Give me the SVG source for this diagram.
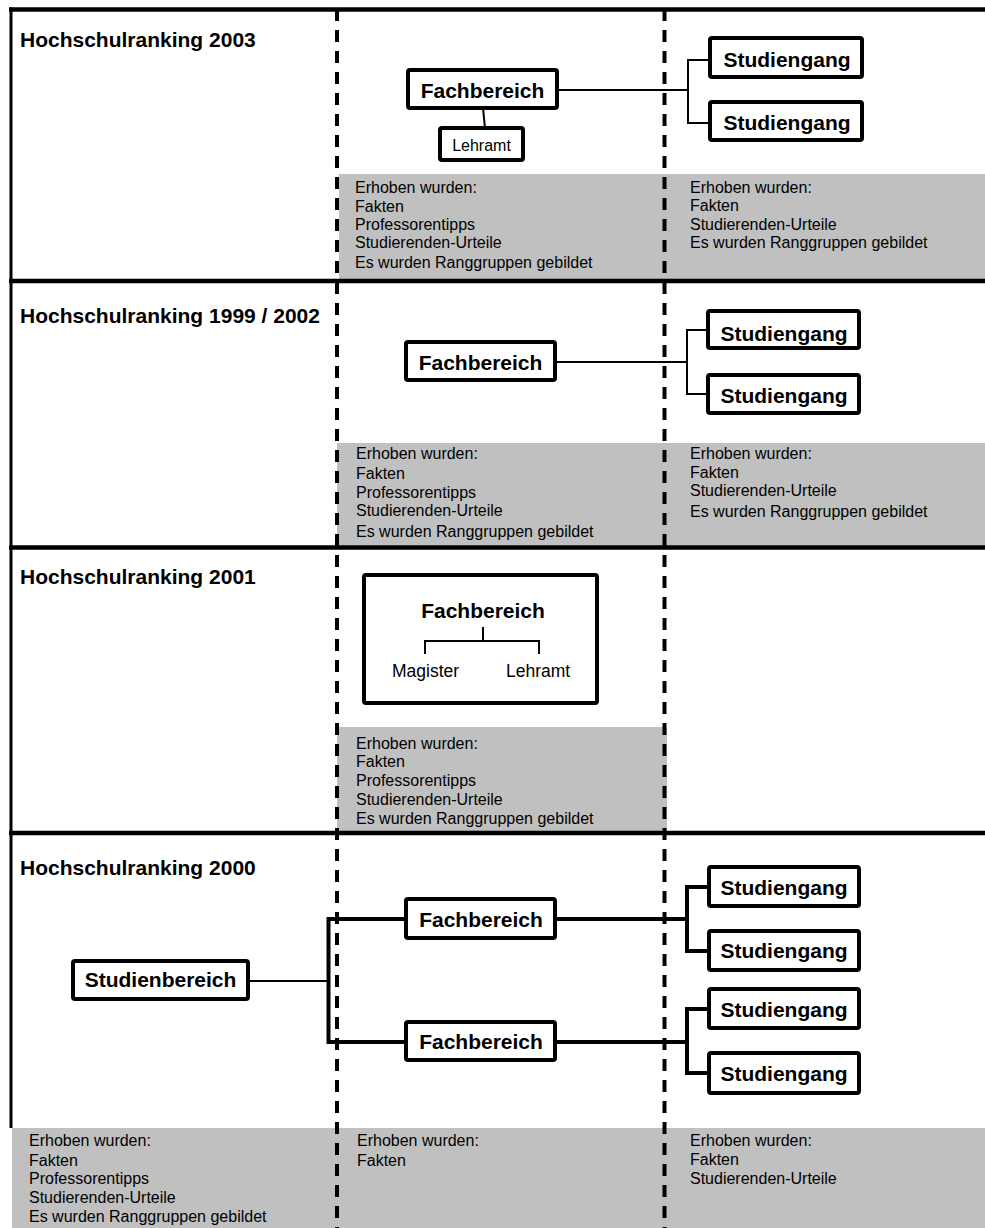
<svg xmlns="http://www.w3.org/2000/svg" width="985" height="1228" viewBox="0 0 985 1228">
<style>
text{font-family:"Liberation Sans",Arial,Helvetica,sans-serif;fill:#000}
.t{font-size:21px;font-weight:bold}
.b{font-size:21px;font-weight:bold;text-anchor:middle}
.g{font-size:16px}
.s{font-size:17.5px}
.box{fill:#fff;stroke:#000;stroke-width:4}
.gray{fill:#c0c0c0}
.sep{stroke:#000;stroke-width:4.5;fill:none}
.dash{stroke:#000;stroke-width:4;stroke-dasharray:12 9;fill:none}
.thin{stroke:#000;stroke-width:2;fill:none}
.thick{stroke:#000;stroke-width:4;fill:none}
</style>
<rect width="985" height="1228" fill="#fff"/>
<g id="backgrounds">
<rect class="gray" x="339" y="174" width="646" height="105"/>
<rect class="gray" x="337" y="443" width="648" height="103"/>
<rect class="gray" x="337" y="727" width="330" height="104"/>
<rect class="gray" x="12" y="1128" width="973" height="100"/>
</g>
<g id="frame">
<line class="sep" x1="9" y1="9.5" x2="985" y2="9.5"/>
<line class="sep" x1="9" y1="281" x2="985" y2="281"/>
<line class="sep" x1="9" y1="547.5" x2="985" y2="547.5"/>
<line class="sep" x1="9" y1="833" x2="985" y2="833"/>
<line x1="11" y1="7.5" x2="11" y2="1128" stroke="#000" stroke-width="3"/>
<line class="dash" x1="337" y1="9" x2="337" y2="1228"/>
<line class="dash" x1="664.5" y1="9" x2="664.5" y2="1228"/>
</g>
<g id="titles">
<text class="t" x="20" y="47">Hochschulranking 2003</text>
<text class="t" x="20" y="323">Hochschulranking 1999 / 2002</text>
<text class="t" x="20" y="584">Hochschulranking 2001</text>
<text class="t" x="20" y="875">Hochschulranking 2000</text>
</g>
<g id="notes">
<text class="g" x="355" y="193">Erhoben wurden:</text>
<text class="g" x="355" y="212">Fakten</text>
<text class="g" x="355" y="230">Professorentipps</text>
<text class="g" x="355" y="248">Studierenden-Urteile</text>
<text class="g" x="355" y="268">Es wurden Ranggruppen gebildet</text>
<text class="g" x="690" y="193">Erhoben wurden:</text>
<text class="g" x="690" y="211">Fakten</text>
<text class="g" x="690" y="230">Studierenden-Urteile</text>
<text class="g" x="690" y="248">Es wurden Ranggruppen gebildet</text>
<text class="g" x="356" y="459">Erhoben wurden:</text>
<text class="g" x="356" y="479">Fakten</text>
<text class="g" x="356" y="498">Professorentipps</text>
<text class="g" x="356" y="516">Studierenden-Urteile</text>
<text class="g" x="356" y="537">Es wurden Ranggruppen gebildet</text>
<text class="g" x="690" y="459">Erhoben wurden:</text>
<text class="g" x="690" y="478">Fakten</text>
<text class="g" x="690" y="496">Studierenden-Urteile</text>
<text class="g" x="690" y="517">Es wurden Ranggruppen gebildet</text>
<text class="g" x="356" y="749">Erhoben wurden:</text>
<text class="g" x="356" y="767">Fakten</text>
<text class="g" x="356" y="786">Professorentipps</text>
<text class="g" x="356" y="805">Studierenden-Urteile</text>
<text class="g" x="356" y="824">Es wurden Ranggruppen gebildet</text>
<text class="g" x="29" y="1146">Erhoben wurden:</text>
<text class="g" x="29" y="1166">Fakten</text>
<text class="g" x="29" y="1184">Professorentipps</text>
<text class="g" x="29" y="1203">Studierenden-Urteile</text>
<text class="g" x="29" y="1222">Es wurden Ranggruppen gebildet</text>
<text class="g" x="357" y="1146">Erhoben wurden:</text>
<text class="g" x="357" y="1166">Fakten</text>
<text class="g" x="690" y="1146">Erhoben wurden:</text>
<text class="g" x="690" y="1165">Fakten</text>
<text class="g" x="690" y="1184">Studierenden-Urteile</text>
</g>
<g id="connectors">
<line class="thin" x1="483" y1="108" x2="485" y2="128"/>
<line class="thin" x1="557" y1="90" x2="688" y2="90"/>
<polyline class="thin" points="710,60 688,60 688,123 710,123"/>
<line class="thin" x1="555" y1="362" x2="687" y2="362"/>
<polyline class="thin" points="708,330 687,330 687,394 708,394"/>
<line class="thin" x1="248" y1="981" x2="329" y2="981"/>
<polyline class="thick" points="406,919 328.5,919 328.5,1042 406,1042"/>
<line class="thick" x1="555" y1="919" x2="687" y2="919"/>
<line class="thick" x1="555" y1="1042" x2="687" y2="1042"/>
<polyline class="thick" points="709,887 687,887 687,951 709,951"/>
<polyline class="thick" points="709,1009 687,1009 687,1073 709,1073"/>
</g>
<g id="n2003-fachbereich"><rect class="box" x="408" y="70" width="149" height="38" rx="2"/><text class="b" x="482.5" y="98">Fachbereich</text></g>
<g id="n2003-lehramt"><rect class="box" x="440" y="128" width="83" height="32" rx="2" stroke-width="3.5"/><text class="g" x="481.5" y="151" text-anchor="middle">Lehramt</text></g>
<g id="n2003-studiengang1"><rect class="box" x="710" y="38" width="152" height="39" rx="2"/><text class="b" x="787" y="67">Studiengang</text></g>
<g id="n2003-studiengang2"><rect class="box" x="710" y="102" width="152" height="38" rx="2"/><text class="b" x="787" y="130">Studiengang</text></g>
<g id="n1999-fachbereich"><rect class="box" x="406" y="342" width="149" height="38" rx="2"/><text class="b" x="480.5" y="370">Fachbereich</text></g>
<g id="n1999-studiengang1"><rect class="box" x="708" y="311" width="151" height="37" rx="2"/><text class="b" x="784" y="341">Studiengang</text></g>
<g id="n1999-studiengang2"><rect class="box" x="708" y="375" width="151" height="38" rx="2"/><text class="b" x="784" y="403">Studiengang</text></g>
<g id="n2001-fachbereich"><rect class="box" x="364" y="575" width="233" height="128" rx="2"/><text class="b" x="483" y="618">Fachbereich</text>
<polyline class="thin" points="483,627 483,641"/>
<polyline class="thin" points="425,654 425,641 539,641 539,654"/>
<text class="s" x="392" y="677">Magister</text><text class="s" x="506" y="677">Lehramt</text></g>
<g id="n2000-studienbereich"><rect class="box" x="73" y="961" width="175" height="38" rx="2"/><text class="b" x="160.5" y="987">Studienbereich</text></g>
<g id="n2000-fachbereich1"><rect class="box" x="406" y="899" width="149" height="39" rx="2"/><text class="b" x="481" y="927">Fachbereich</text></g>
<g id="n2000-fachbereich2"><rect class="box" x="406" y="1022" width="149" height="38" rx="2"/><text class="b" x="481" y="1049">Fachbereich</text></g>
<g id="n2000-studiengang1"><rect class="box" x="709" y="867" width="150" height="39" rx="2"/><text class="b" x="784" y="895">Studiengang</text></g>
<g id="n2000-studiengang2"><rect class="box" x="709" y="931" width="150" height="39" rx="2"/><text class="b" x="784" y="958">Studiengang</text></g>
<g id="n2000-studiengang3"><rect class="box" x="709" y="989" width="150" height="39" rx="2"/><text class="b" x="784" y="1017">Studiengang</text></g>
<g id="n2000-studiengang4"><rect class="box" x="709" y="1053" width="150" height="40" rx="2"/><text class="b" x="784" y="1081">Studiengang</text></g>
</svg>
